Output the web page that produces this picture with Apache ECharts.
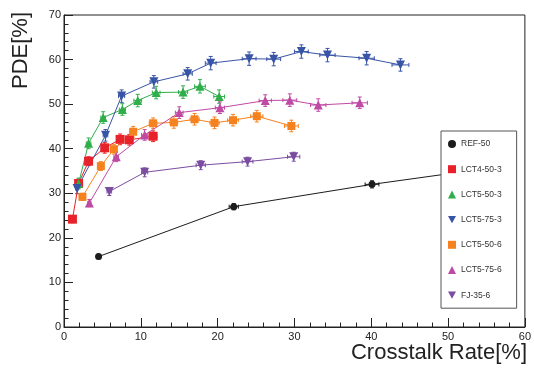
<!DOCTYPE html>
<html>
<head>
<meta charset="utf-8">
<script src="https://cdn.jsdelivr.net/npm/echarts@6/dist/echarts.min.js"></script>
<style>html,body{margin:0;padding:0;background:#fff}#c{width:534px;height:369px}</style>
</head>
<body>
<div id="c"></div>
<script>
// Data: [crosstalk %, PDE %, x error, y error]
const REF_50 = [[4.5,15.8,0.2,0.5],[22.1,27.0,0.6,0.7],[40.1,32.0,0.9,0.8],[56.0,35.8,1.0,0.8]];
const LCT4_50_3 = [[1.1,24.2,0.1,0.8],[1.9,32.2,0.2,1.0],[3.2,37.2,0.3,1.0],[5.3,40.2,0.3,1.2],[7.3,42.1,0.4,1.2],[8.5,42.0,0.4,1.2],[11.6,42.8,0.5,1.2]];
const LCT5_50_3 = [[1.9,32.2,0.2,1.2],[3.2,41.2,0.3,1.2],[5.1,47.0,0.3,1.3],[7.6,48.8,0.4,1.3],[9.6,50.8,0.5,1.4],[12.0,52.6,0.5,1.4],[15.5,52.7,0.6,1.4],[17.7,54.0,0.7,1.5],[20.2,51.7,0.7,1.5]];
const LCT5_75_3 = [[1.7,31.1,0.2,1.2],[5.4,43.0,0.3,1.3],[7.5,51.8,0.4,1.4],[11.7,55.0,0.5,1.4],[16.1,56.8,0.6,1.4],[19.1,59.2,0.7,1.5],[24.1,60.2,0.9,1.5],[27.3,60.1,0.9,1.5],[30.9,61.8,0.9,1.5],[34.3,61.0,1.0,1.5],[39.4,60.3,1.0,1.5],[43.8,58.8,1.1,1.4]];
const LCT5_50_6 = [[2.4,29.2,0.2,0.8],[4.8,36.1,0.3,1.0],[6.5,39.9,0.3,1.1],[9.0,43.8,0.4,1.2],[11.6,45.7,0.5,1.2],[14.3,45.9,0.5,1.3],[17.0,46.6,0.6,1.3],[19.6,45.8,0.6,1.3],[22.0,46.4,0.7,1.3],[25.1,47.3,0.8,1.3],[29.6,45.1,0.9,1.3]];
const LCT5_75_6 = [[3.3,27.8,0.2,0.8],[6.8,38.2,0.3,1.1],[10.5,43.1,0.4,1.2],[15.0,48.1,0.5,1.3],[20.3,49.2,0.6,1.3],[26.2,50.8,0.8,1.3],[29.4,50.9,0.9,1.4],[33.1,49.8,1.0,1.4],[38.5,50.3,1.0,1.3]];
const FJ_35_6 = [[5.9,30.4,0.3,0.9],[10.5,34.7,0.4,1.0],[17.8,36.3,0.6,1.0],[23.9,37.1,0.7,1.0],[29.9,38.2,0.8,1.0]];

const xTicks = [0,10,20,30,40,50,60];
const yTicks = [0,10,20,30,40,50,60,70];

const INV_TRI = 'path://M0,0L10,0L5,9Z';
const defs = [
  {name:'REF-50', data:REF_50, color:'#1c1c1c', symbol:'circle', size:7, icon:'circle'},
  {name:'LCT4-50-3', data:LCT4_50_3, color:'#e8222b', symbol:'rect', size:9, icon:'rect'},
  {name:'LCT5-50-3', data:LCT5_50_3, color:'#2fae4a', symbol:'triangle', size:9, icon:'triangle'},
  {name:'LCT5-75-3', data:LCT5_75_3, color:'#3854a6', symbol:INV_TRI, size:9, icon:INV_TRI},
  {name:'LCT5-50-6', data:LCT5_50_6, color:'#f5821f', symbol:'rect', size:8, icon:'rect'},
  {name:'LCT5-75-6', data:LCT5_75_6, color:'#bf4aa4', symbol:'triangle', size:9, icon:'triangle'},
  {name:'FJ-35-6', data:FJ_35_6, color:'#7b4da0', symbol:INV_TRI, size:9, icon:INV_TRI}
];

const series = [];
defs.forEach(d => {
  series.push({
    type:'custom', name:d.name + ' err', silent:true, z:2,
    data:d.data,
    encode:{x:0,y:1},
    renderItem:function(params, api){
      const x=api.value(0), y=api.value(1), ex=api.value(2), ey=api.value(3);
      const pL=api.coord([x-ex,y]), pR=api.coord([x+ex,y]);
      const pB=api.coord([x,y-ey]), pT=api.coord([x,y+ey]);
      const st={stroke:d.color, lineWidth:1};
      const c=2;
      return {type:'group', children:[
        {type:'line', shape:{x1:pL[0],y1:pL[1],x2:pR[0],y2:pR[1]}, style:st},
        {type:'line', shape:{x1:pB[0],y1:pB[1],x2:pT[0],y2:pT[1]}, style:st},
        {type:'line', shape:{x1:pL[0],y1:pL[1]-c,x2:pL[0],y2:pL[1]+c}, style:st},
        {type:'line', shape:{x1:pR[0],y1:pR[1]-c,x2:pR[0],y2:pR[1]+c}, style:st},
        {type:'line', shape:{x1:pB[0]-c,y1:pB[1],x2:pB[0]+c,y2:pB[1]}, style:st},
        {type:'line', shape:{x1:pT[0]-c,y1:pT[1],x2:pT[0]+c,y2:pT[1]}, style:st}
      ]};
    }
  });
  series.push({
    type:'line', name:d.name, z:3,
    data:d.data.map(p=>[p[0],p[1]]),
    color:d.color,
    symbol:d.symbol, symbolSize:d.size, showSymbol:true,
    lineStyle:{color:d.color, width:1},
    itemStyle:{color:d.color},
    emphasis:{disabled:true},
    animation:false
  });
});

const chart = echarts.init(document.getElementById('c'), null, {renderer:'canvas'});
const font = 'Liberation Sans, Arial, Helvetica, sans-serif';
chart.setOption({
  animation:false,
  backgroundColor:'#ffffff',
  textStyle:{fontFamily:font},
  grid:{left:64, right:7, top:15, bottom:42, show:true, borderColor:'#222', borderWidth:1, backgroundColor:'transparent'},
  xAxis:{
    type:'value', min:xTicks[0], max:xTicks[xTicks.length-1], interval:10,
    axisLine:{onZero:false, lineStyle:{color:'#222', width:1}},
    axisTick:{inside:true, length:9, lineStyle:{color:'#222'}},
    minorTick:{show:true, splitNumber:5, length:4.5, lineStyle:{color:'#222'}},
    splitLine:{show:false},
    axisLabel:{color:'#222', fontSize:11, margin:4, fontFamily:font}
  },
  yAxis:{
    type:'value', min:yTicks[0], max:yTicks[yTicks.length-1], interval:10,
    axisLine:{show:true, onZero:false, lineStyle:{color:'#222', width:1}},
    axisTick:{show:true, inside:true, length:9, lineStyle:{color:'#222'}},
    minorTick:{show:true, splitNumber:5, length:4.5, lineStyle:{color:'#222'}},
    splitLine:{show:false},
    axisLabel:{color:'#222', fontSize:11, margin:3, fontFamily:font}
  },
  legend:{
    orient:'vertical', left:441, top:131,
    padding:[8,15,8,7],
    itemGap:15.2, itemWidth:8, itemHeight:8,
    backgroundColor:'#ffffff', borderColor:'#555', borderWidth:1,
    textStyle:{fontSize:8.5, color:'#333', lineHeight:10, fontFamily:font},
    selectedMode:false,
    data:defs.map(d=>({name:d.name, icon:d.icon, itemStyle:{color:d.color}})),
    z:10
  },
  graphic:[
    {type:'text', left:10, top:12, rotation:Math.PI/2, z:20,
      style:{text:'PDE[%]', fontSize:22, fontFamily:font, fill:'#222'}},
    {type:'text', right:7, top:342, z:20,
      style:{text:'Crosstalk Rate[%]', fontSize:22, fontFamily:font, fill:'#222'}}
  ],
  series:series
});
</script>
</body>
</html>
